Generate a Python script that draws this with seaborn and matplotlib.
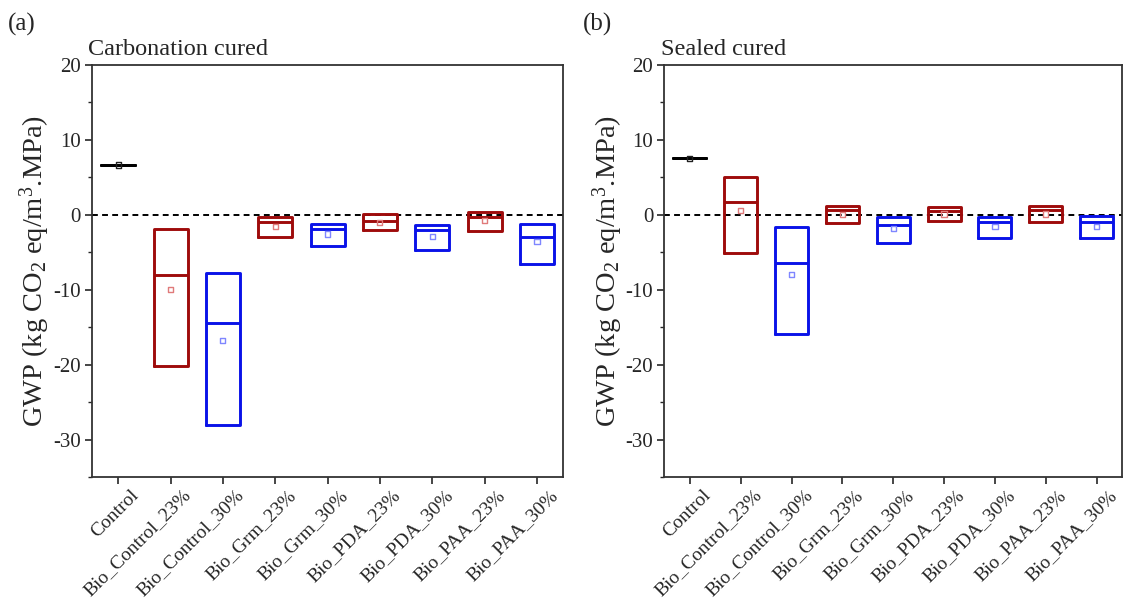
import numpy as np
import pandas as pd
import matplotlib
matplotlib.use("Agg")
import matplotlib.pyplot as plt
from matplotlib.ticker import MultipleLocator
from matplotlib.transforms import ScaledTranslation
import seaborn as sns

categories = ["Control", "Bio_Control_23%", "Bio_Control_30%", "Bio_Grm_23%", "Bio_Grm_30%",
              "Bio_PDA_23%", "Bio_PDA_30%", "Bio_PAA_23%", "Bio_PAA_30%"]

# Carbonation cured: range (min/max), median and mean of GWP per mix
carb_min = [6.65, -20.2, -28.0, -3.0, -4.2, -2.05, -4.65, -2.2, -6.55]
carb_med = [6.65, -8.0, -14.45, -0.9, -1.9, -0.8, -2.05, -0.3, -2.95]
carb_max = [6.65, -1.9, -7.75, -0.25, -1.2, 0.1, -1.35, 0.4, -1.25]
carb_mean = [6.65, -10.0, -16.75, -1.55, -2.55, -1.0, -2.85, -0.8, -3.6]

# Sealed cured
seal_min = [7.55, -5.1, -15.85, -1.15, -3.7, -0.85, -3.15, -0.95, -3.1]
seal_med = [7.55, 1.65, -6.4, 0.6, -1.3, 0.5, -1.0, 0.6, -1.0]
seal_max = [7.55, 5.05, -1.6, 1.2, -0.35, 1.0, -0.25, 1.2, -0.15]
seal_mean = [7.55, 0.6, -7.95, 0.0, -1.85, 0.1, -1.6, 0.1, -1.6]

yticks = [-30, -20, -10, 0, 10, 20]

RED = "#9E0B0B"
BLUE = "#0A12E8"
box_colors = ["#000000"] + [RED, BLUE] * 4
mean_colors = ["#202020"] + ["#E07A7A", "#7F86FF"] * 4

sns.set_theme(style="ticks")
plt.rcParams["font.family"] = ["Liberation Serif", "DejaVu Serif"]
plt.rcParams["mathtext.fontset"] = "custom"
plt.rcParams["mathtext.rm"] = "Liberation Serif"
plt.rcParams["mathtext.it"] = "Liberation Serif:italic"
plt.rcParams["axes.unicode_minus"] = False


def box_frame(mins, meds, maxs):
    # five points per mix so that Q1 = min, median = median, Q3 = max
    rows = []
    for c, lo, md, hi in zip(categories, mins, meds, maxs):
        for v in (lo, lo, md, hi, hi):
            rows.append({"mix": c, "gwp": v})
    return pd.DataFrame(rows)


def draw_panel(fig, ax, mins, meds, maxs, means, title, tag):
    df = box_frame(mins, meds, maxs)
    pal = dict(zip(categories, box_colors))
    ax.axhline(0, color="black", lw=1.4, ls=(0, (3, 2.2)), zorder=1)
    sns.boxplot(data=df, x="mix", y="gwp", hue="mix", order=categories, hue_order=categories,
                palette=pal, fill=False, width=0.65, linewidth=2.1, showcaps=False,
                showfliers=False, whis=1.5, legend=False, ax=ax,
                whiskerprops={"linewidth": 0}, medianprops={"linewidth": 2.1})
    mdf = pd.DataFrame({"mix": categories, "gwp": means})
    n0 = len(ax.collections)
    sns.stripplot(data=mdf, x="mix", y="gwp", hue="mix", order=categories, hue_order=categories,
                  palette=dict(zip(categories, mean_colors)), jitter=False, marker="s",
                  size=3.8, legend=False, ax=ax, zorder=5)
    for coll in ax.collections[n0:]:
        fc = coll.get_facecolor()
        coll.set_edgecolor(fc)
        coll.set_facecolor("none")
        coll.set_linewidth(1.0)

    ax.set_xlim(-0.5, len(categories) - 0.5)
    ax.set_ylim(-35, 20)
    ax.set_yticks(yticks)
    ax.yaxis.set_minor_locator(MultipleLocator(5))
    ax.tick_params(axis="y", which="major", length=5, width=1.2, labelsize=15, direction="out", pad=3)
    ax.tick_params(axis="y", which="minor", length=3, width=1.0, direction="out")
    ax.tick_params(axis="x", which="major", length=5, width=1.2, labelsize=14, direction="out", pad=2)
    ax.set_xticks(range(len(categories)))
    ax.set_xticklabels(categories, rotation=45, ha="right", va="top", rotation_mode="anchor")
    shift = ScaledTranslation(0.12, 0.0, fig.dpi_scale_trans)
    for lab in ax.get_xticklabels():
        lab.set_transform(lab.get_transform() + shift)
    for s in ax.spines.values():
        s.set_visible(True)
        s.set_linewidth(1.3)
        s.set_color("#333333")
    ax.set_xlabel("")
    ax.set_ylabel("GWP (kg CO$_2$ eq/m$^3$.MPa)", fontsize=20.5, labelpad=0.5)
    ax.text(-0.008, 1.012, title, transform=ax.transAxes, fontsize=17.5, ha="left", va="bottom")
    ax.text(-0.178, 1.07, tag, transform=ax.transAxes, fontsize=18, ha="left", va="bottom")


fig = plt.figure(figsize=(11.29, 6.01), dpi=100)
ax1 = fig.add_axes([0.0815, 0.2063, 0.4172, 0.6855])
ax2 = fig.add_axes([0.5885, 0.2063, 0.4053, 0.6855])

draw_panel(fig, ax1, carb_min, carb_med, carb_max, carb_mean, "Carbonation cured", "(a)")
draw_panel(fig, ax2, seal_min, seal_med, seal_max, seal_mean, "Sealed cured", "(b)")

fig.savefig("out.png", dpi=100)
